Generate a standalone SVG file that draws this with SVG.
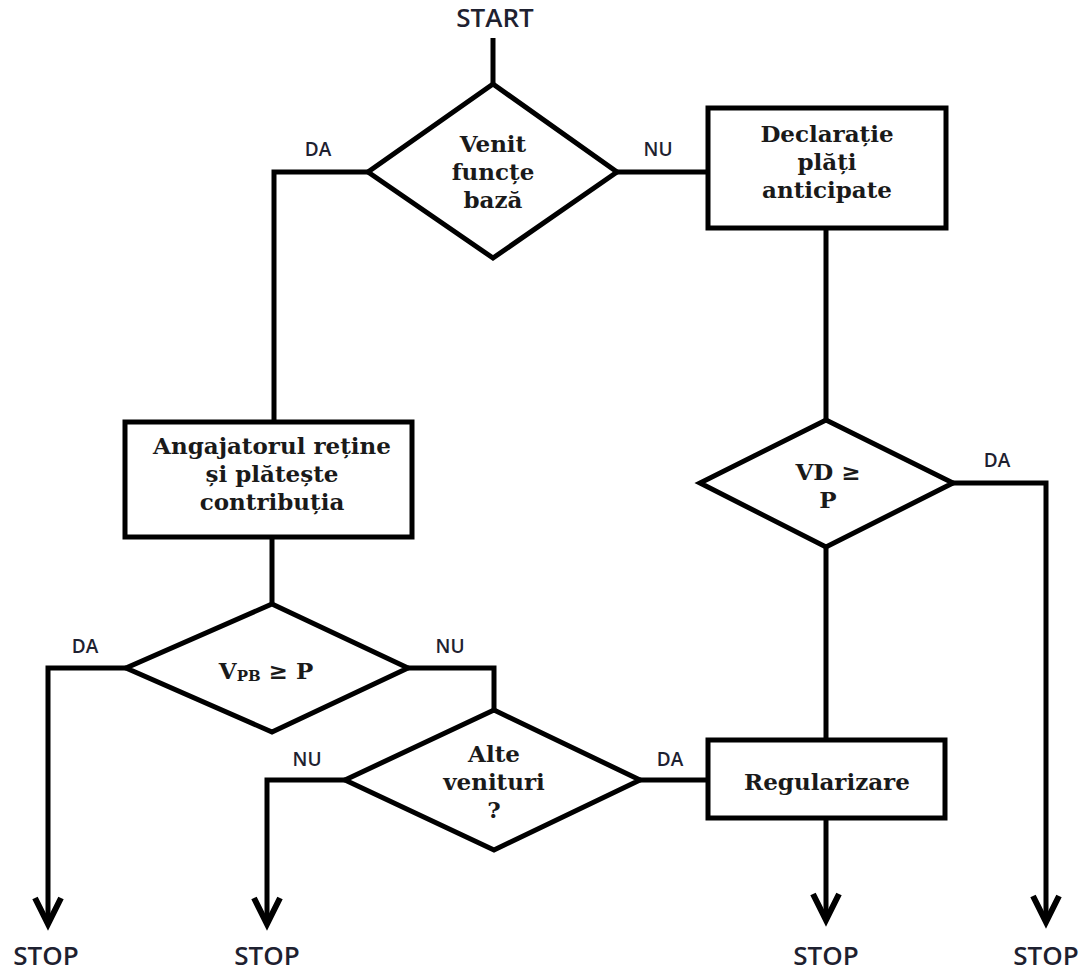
<svg xmlns="http://www.w3.org/2000/svg" width="1086" height="974" viewBox="0 0 1086 974">
<style>
.shape{fill:#fff;stroke:#000;stroke-width:5;stroke-linejoin:miter}
.conn{fill:none;stroke:#000;stroke-width:5;stroke-linejoin:miter}
.node{font-family:"DejaVu Serif","Liberation Serif",serif;font-weight:bold;font-size:23px;fill:#1a1a1a;text-anchor:middle}
.lbl{font-family:"Open Sans","Liberation Sans",sans-serif;font-weight:600;font-size:19px;fill:#1e2130;text-anchor:middle}
.term{font-family:"Open Sans","Liberation Sans",sans-serif;font-weight:600;font-size:26px;fill:#1e2130;text-anchor:middle}
</style>
<defs>
<marker id="arr" markerUnits="userSpaceOnUse" markerWidth="40" markerHeight="40" refX="0" refY="0" viewBox="-30 -20 40 40" orient="auto" overflow="visible">
<path d="M-26,-13 L0,0 L-26,13" fill="none" stroke="#000" stroke-width="6" stroke-linejoin="miter"/>
</marker>
</defs>
<rect width="1086" height="974" fill="#fff"/>
<g id="connectors">
<path class="conn" d="M493,38 V84"/>
<path class="conn" d="M368,172 H274 V422"/>
<path class="conn" d="M617,172 H708"/>
<path class="conn" d="M826,228 V420"/>
<path class="conn" d="M953,483 H1046 V922" marker-end="url(#arr)"/>
<path class="conn" d="M826,547 V740"/>
<path class="conn" d="M826,818 V920" marker-end="url(#arr)"/>
<path class="conn" d="M272,537 V604"/>
<path class="conn" d="M126,668 H48 V924" marker-end="url(#arr)"/>
<path class="conn" d="M408,668 H494 V710"/>
<path class="conn" d="M345,780 H267 V924" marker-end="url(#arr)"/>
<path class="conn" d="M640,780 H708"/>
</g>
<g id="labels">
<text class="lbl" x="318" y="156">DA</text>
<text class="lbl" x="658" y="156">NU</text>
<text class="lbl" x="997" y="467">DA</text>
<text class="lbl" x="85" y="653">DA</text>
<text class="lbl" x="450" y="653">NU</text>
<text class="lbl" x="307" y="766">NU</text>
<text class="lbl" x="670" y="766">DA</text>
</g>
<g id="start"><text class="term" x="495" y="27">START</text></g>
<g id="decision1">
<polygon class="shape" points="493,84 617,172 493,258 368,172"/>
<text class="node" x="493" y="152">Venit</text>
<text class="node" x="493" y="180">funcțe</text>
<text class="node" x="493" y="208">bază</text>
</g>
<g id="declaratie">
<rect class="shape" x="708" y="108" width="238" height="120"/>
<text class="node" x="827" y="142">Declarație</text>
<text class="node" x="827" y="170">plăți</text>
<text class="node" x="827" y="198">anticipate</text>
</g>
<g id="angajator">
<rect class="shape" x="125" y="422" width="287" height="115"/>
<text class="node" x="272" y="454">Angajatorul reține</text>
<text class="node" x="272" y="482">și plătește</text>
<text class="node" x="272" y="510">contribuția</text>
</g>
<g id="vd">
<polygon class="shape" points="826,420 953,483 826,547 700,483"/>
<text class="node" x="828" y="480">VD ≥</text>
<text class="node" x="828" y="508">P</text>
</g>
<g id="vpb">
<polygon class="shape" points="272,604 408,668 272,732 126,668"/>
<text class="node" x="266" y="679">V<tspan font-size="15" dy="2">PB</tspan><tspan dy="-2"> ≥ P</tspan></text>
</g>
<g id="alte">
<polygon class="shape" points="494,710 640,780 494,850 345,780"/>
<text class="node" x="494" y="762">Alte</text>
<text class="node" x="494" y="790">venituri</text>
<text class="node" x="494" y="818">?</text>
</g>
<g id="regularizare">
<rect class="shape" x="708" y="740" width="237" height="78"/>
<text class="node" x="827" y="790">Regularizare</text>
</g>
<g id="stops">
<text class="term" x="46" y="965">STOP</text>
<text class="term" x="267" y="965">STOP</text>
<text class="term" x="826" y="965">STOP</text>
<text class="term" x="1046" y="965">STOP</text>
</g>
</svg>
